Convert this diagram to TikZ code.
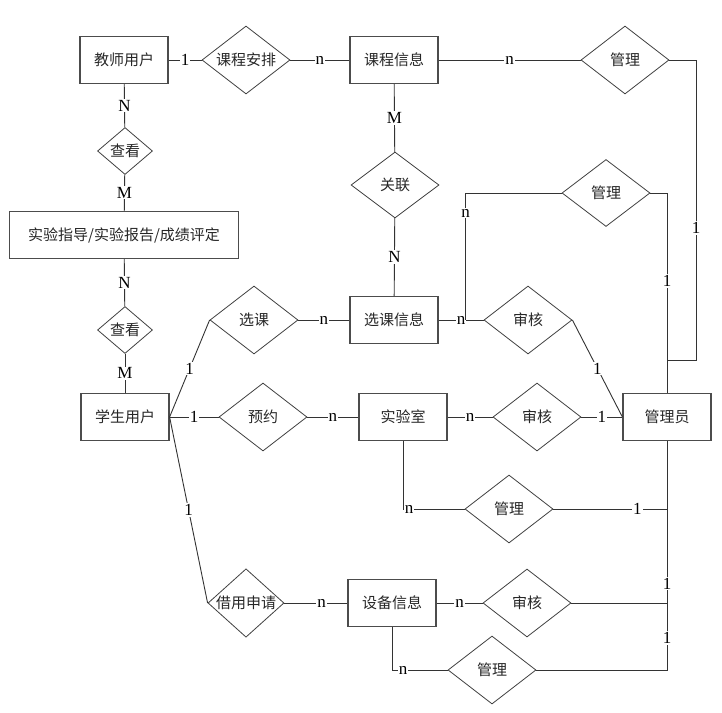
\documentclass[tikz,border=0pt]{standalone}
\usepackage{fontspec}
\setmainfont{Liberation Serif}
\newfontfamily\cjk{Noto Sans CJK SC}
\usetikzlibrary{shapes.geometric,calc}
\tikzset{
  entity/.style={draw=black!70, line width=1.2pt, rectangle, minimum width=88pt, minimum height=47pt, inner sep=2pt, font=\cjk\fontsize{15}{17}\selectfont, text=black!85},
  relation/.style={draw=black!75, line width=0.8pt, diamond, aspect=1.3, inner sep=0pt, minimum width=88pt, minimum height=68pt, font=\cjk\fontsize{15}{17}\selectfont, text=black!85},
  small/.style={minimum width=55pt, minimum height=47pt, aspect=1.2},
  link/.style={draw=black!80, line width=0.9pt},
  card/.style={fill=white, inner sep=1pt, font=\fontsize{17}{17}\selectfont}
}

\begin{document}
\begin{tikzpicture}[x=1pt, y=-1pt]
  \useasboundingbox (0,0) rectangle (722,712);
  \node[entity] (teacher) at (124,60) {教师用户};
  \node[relation] (arrange) at (246,60) {课程安排};
  \node[entity] (course) at (394,60) {课程信息};
  \node[relation] (manage1) at (625,60) {管理};
  \node[relation, small] (view1) at (125,151) {查看};
  \node[entity, minimum width=229pt] (guide) at (124,235) {实验指导/实验报告/成绩评定};
  \node[relation, minimum height=66pt] (relate) at (395,185) {关联};
  \node[relation, minimum height=67pt] (manage2) at (606,193) {管理};
  \node[relation, small] (view2) at (125,330) {查看};
  \node[relation] (select) at (254,320) {选课};
  \node[entity] (selinfo) at (394,320) {选课信息};
  \node[relation] (audit1) at (528,320) {审核};
  \node[entity] (student) at (125,417) {学生用户};
  \node[relation] (reserve) at (263,417) {预约};
  \node[entity] (lab) at (403,417) {实验室};
  \node[relation] (audit2) at (537,417) {审核};
  \node[entity] (admin) at (667,417) {管理员};
  \node[relation] (manage3) at (509,509) {管理};
  \node[relation, minimum width=76pt, aspect=1.1] (borrow) at (246,603) {借用申请};
  \node[entity] (equip) at (392,603) {设备信息};
  \node[relation] (audit3) at (527,603) {审核};
  \node[relation] (manage4) at (492,670) {管理};

  \draw[link] (teacher) -- node[card] (l1) {1} (arrange);
  \draw[link] (arrange) -- node[card] (l2) {n} (course);
  \draw[link] (course) -- node[card] (l3) {n} (manage1);
  \draw[link] (manage1.east) -| node[card, pos=0.78] (l4) {1} (696,360) -| (admin.north);
  \draw[link] (teacher) -- node[card] (l5) {N} (view1);
  \draw[link] (view1) -- node[card] (l6) {M} (guide);
  \draw[link] (guide) -- node[card] (l7) {N} (view2);
  \draw[link] (view2) -- node[card] (l8) {M} (student);
  \draw[link] (course) -- node[card] (l9) {M} (relate);
  \draw[link] (relate) -- node[card] (l10) {N} (selinfo);
  \draw[link] (student.east) -- node[card] (l11) {1} (select.west);
  \draw[link] (student.east) -- node[card] (l12) {1} (reserve.west);
  \draw[link] (student.east) -- node[card] (l13) {1} (borrow.west);
  \draw[link] (select) -- node[card] (l14) {n} (selinfo);
  \draw[link] (reserve) -- node[card] (l15) {n} (lab);
  \draw[link] (borrow) -- node[card, pos=0.59] (l16) {n} (equip);
  \draw[link] (selinfo) -- node[card] (l17) {n} (audit1);
  \draw[link] (audit1.east) -- node[card] (l18) {1} (admin.west);
  \draw[link] (lab) -- node[card] (l19) {n} (audit2);
  \draw[link] (audit2) -- node[card] (l20) {1} (admin);
  \draw[link] (manage2.west) -| node[card, pos=0.58] (l21) {n} ($(selinfo.east)+(27,0)$);
  \draw[link] (manage2.east) -| node[card, pos=0.72] (l22) {1} (admin.north);
  \draw[link] (lab.south) |- node[card, pos=0.55] (l23) {n} (manage3.west);
  \draw[link] (manage3.east) -- node[card, pos=0.74] (l24) {1} (manage3.east -| admin.south);
  \draw[link] (manage4.east) -| node[card, pos=0.57] (l25) {1} (admin.south);
  \draw[link] (audit3.east) -| node[card, pos=0.56] (l26) {1} (admin.south);
  \draw[link] (equip) -- node[card] (l27) {n} (audit3);
  \draw[link] (equip.south) |- node[card, pos=0.6] (l28) {n} (manage4.west);
\end{tikzpicture}
\end{document}
